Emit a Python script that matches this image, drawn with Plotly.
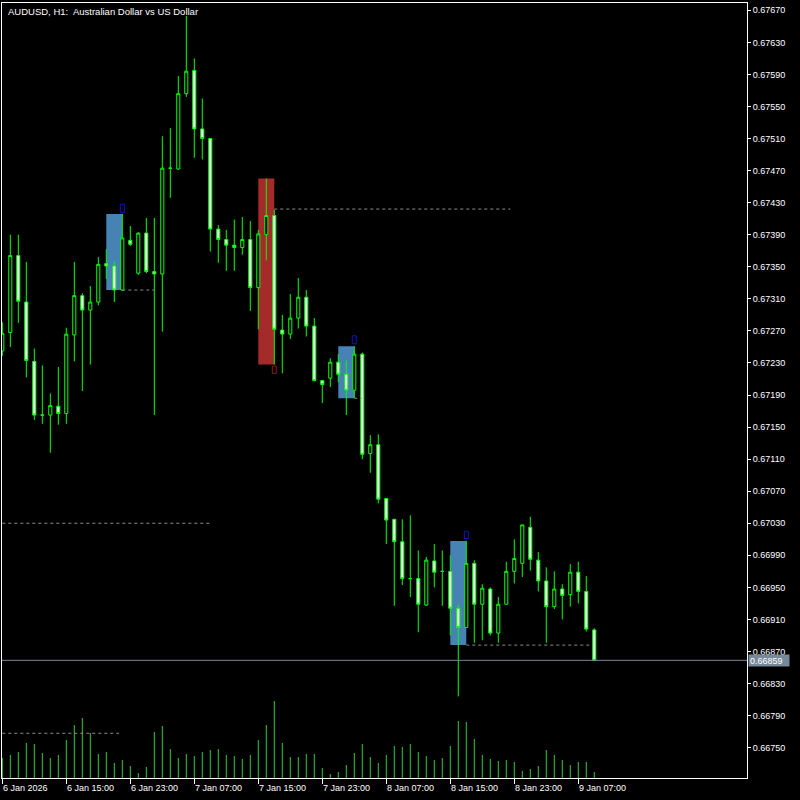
import plotly.graph_objects as go

# ---------------- data ----------------
symbol_title = "AUDUSD, H1:&nbsp; Australian Dollar vs US Dollar"
bar_index = list(range(75))  # hourly bars from 6 Jan 07:00 to 9 Jan 09:00

opens = [0.67245, 0.67268, 0.67364, 0.67306, 0.67232, 0.67165, 0.67165, 0.67176, 0.67167, 0.67265,
         0.67314, 0.67296, 0.67306, 0.67354, 0.67351, 0.67321, 0.67383, 0.67342, 0.67392, 0.67344,
         0.67341, 0.67473, 0.67472, 0.67566, 0.67595, 0.67522, 0.67510, 0.67397, 0.67384, 0.67377,
         0.67374, 0.67384, 0.67324, 0.67390, 0.67414, 0.67271, 0.67266, 0.67286, 0.67312, 0.67276,
         0.67208, 0.67211, 0.67231, 0.67216, 0.67196, 0.67241, 0.67117, 0.67128, 0.67061, 0.67035,
         0.67007, 0.66961, 0.66961, 0.66928, 0.66983, 0.66970, 0.66970, 0.66924, 0.66900, 0.66980,
         0.66929, 0.66948, 0.66893, 0.66929, 0.66970, 0.66980, 0.67025, 0.66984, 0.66958, 0.66926,
         0.66948, 0.66941, 0.66969, 0.66945, 0.66897]
highs = [0.67281, 0.67390, 0.67390, 0.67356, 0.67248, 0.67227, 0.67192, 0.67225, 0.67274, 0.67356,
         0.67317, 0.67326, 0.67362, 0.67372, 0.67357, 0.67416, 0.67401, 0.67393, 0.67411, 0.67411,
         0.67513, 0.67523, 0.67588, 0.67663, 0.67610, 0.67560, 0.67510, 0.67402, 0.67396, 0.67409,
         0.67412, 0.67407, 0.67396, 0.67460, 0.67421, 0.67290, 0.67316, 0.67336, 0.67321, 0.67286,
         0.67209, 0.67236, 0.67241, 0.67233, 0.67251, 0.67243, 0.67140, 0.67141, 0.67061, 0.67035,
         0.67035, 0.67040, 0.66996, 0.66988, 0.67004, 0.66996, 0.66990, 0.66929, 0.67008, 0.66984,
         0.66954, 0.66950, 0.66938, 0.66982, 0.67010, 0.67028, 0.67038, 0.66994, 0.66975, 0.66970,
         0.66954, 0.66979, 0.66982, 0.66964, 0.66899]
lows = [0.67239, 0.67250, 0.67280, 0.67212, 0.67159, 0.67154, 0.67118, 0.67153, 0.67154, 0.67232,
        0.67195, 0.67228, 0.67302, 0.67335, 0.67306, 0.67320, 0.67376, 0.67340, 0.67342, 0.67165,
        0.67269, 0.67436, 0.67471, 0.67562, 0.67486, 0.67484, 0.67369, 0.67355, 0.67345, 0.67345,
        0.67365, 0.67295, 0.67272, 0.67358, 0.67228, 0.67217, 0.67260, 0.67273, 0.67263, 0.67207,
        0.67180, 0.67200, 0.67206, 0.67165, 0.67186, 0.67110, 0.67093, 0.67055, 0.67004, 0.66927,
        0.66953, 0.66938, 0.66894, 0.66927, 0.66950, 0.66927, 0.66890, 0.66814, 0.66900, 0.66881,
        0.66884, 0.66890, 0.66881, 0.66929, 0.66955, 0.66963, 0.66971, 0.66945, 0.66881, 0.66923,
        0.66910, 0.66926, 0.66930, 0.66895, 0.66859]
closes = [0.67267, 0.67364, 0.67307, 0.67233, 0.67165, 0.67165, 0.67177, 0.67167, 0.67266, 0.67314,
          0.67296, 0.67306, 0.67353, 0.67351, 0.67321, 0.67386, 0.67378, 0.67392, 0.67344, 0.67341,
          0.67473, 0.67473, 0.67566, 0.67594, 0.67522, 0.67510, 0.67397, 0.67384, 0.67377, 0.67374,
          0.67384, 0.67324, 0.67391, 0.67414, 0.67272, 0.67266, 0.67286, 0.67312, 0.67276, 0.67208,
          0.67203, 0.67231, 0.67216, 0.67196, 0.67241, 0.67116, 0.67128, 0.67060, 0.67034, 0.67007,
          0.66961, 0.66961, 0.66929, 0.66984, 0.66969, 0.66970, 0.66924, 0.66900, 0.66980, 0.66929,
          0.66949, 0.66893, 0.66929, 0.66970, 0.66986, 0.67028, 0.66985, 0.66958, 0.66926, 0.66948,
          0.66940, 0.66969, 0.66945, 0.66898, 0.66859]
tick_volumes = [800, 920, 1040, 1400, 1360, 1000, 800, 920, 1520, 2120,
                2400, 1800, 960, 1040, 600, 720, 480, 200, 440, 1840,
                2080, 1160, 800, 960, 880, 1040, 1120, 1160, 920, 880,
                760, 920, 1520, 2120, 3080, 1400, 840, 840, 960, 960,
                400, 160, 240, 520, 1000, 1360, 840, 600, 920, 1280,
                1240, 1360, 1040, 880, 720, 800, 1280, 2280, 2240, 1560,
                920, 760, 680, 720, 640, 280, 360, 480, 1120, 920,
                720, 520, 640, 640, 240]

time_tick_index = [0, 8, 16, 24, 32, 40, 48, 56, 64, 72]
time_tick_labels = ["6 Jan 2026", "6 Jan 15:00", "6 Jan 23:00", "7 Jan 07:00", "7 Jan 15:00",
                    "7 Jan 23:00", "8 Jan 07:00", "8 Jan 15:00", "8 Jan 23:00", "9 Jan 07:00"]
price_ticks = [0.67670, 0.67630, 0.67590, 0.67550, 0.67510, 0.67470, 0.67430, 0.67390, 0.67350,
               0.67310, 0.67270, 0.67230, 0.67190, 0.67150, 0.67110, 0.67070, 0.67030, 0.66990,
               0.66950, 0.66910, 0.66870, 0.66830, 0.66790, 0.66750]
current_price = 0.66859

# zones: (start bar, end bar, top price, bottom price, colour)
zones = [(13, 15, 0.67416, 0.67321, "#4682B4"),
         (32, 34, 0.67460, 0.67228, "#A52A2A"),
         (42, 44, 0.67251, 0.67186, "#4682B4"),
         (56, 58, 0.67008, 0.66878, "#4682B4")]
# small marker boxes: (bar, top price, bottom price, colour)
markers = [(15, 0.67428, 0.67418, "#1010D0"),
           (44, 0.67264, 0.67254, "#1010D0"),
           (58, 0.67020, 0.67011, "#1010D0"),
           (34, 0.67226, 0.67217, "#8B1A1A")]
# dashed levels: (start bar, end bar, price)
levels = [(15, 19, 0.67321), (34, 63.5, 0.67422), (0, 26, 0.67030),
          (58, 73.5, 0.66878), (0, 14.6, 0.66768), (44, 45, 0.67186)]

# ---------------- figure ----------------
fig = go.Figure()

fig.add_trace(go.Candlestick(
    x=bar_index, open=opens, high=highs, low=lows, close=closes,
    increasing=dict(line=dict(color="#00FF00", width=1), fillcolor="#000000"),
    decreasing=dict(line=dict(color="#00FF00", width=1), fillcolor="#FFFFFF"),
    whiskerwidth=0, hoverinfo="skip", showlegend=False))

vx, vy = [], []
for i, v in zip(bar_index, tick_volumes):
    vx += [i, i, None]
    vy += [0, v, None]
fig.add_trace(go.Scatter(x=vx, y=vy, mode="lines", yaxis="y2",
                         line=dict(color="#32CD32", width=1),
                         hoverinfo="skip", showlegend=False))

shapes = []
for x0, x1, top, bot, col in zones:
    shapes.append(dict(type="rect", xref="x", yref="y", x0=x0, x1=x1, y0=bot, y1=top,
                       fillcolor=col, line=dict(width=0), layer="below"))
for xb, top, bot, col in markers:
    shapes.append(dict(type="rect", xref="x", yref="y", x0=xb - 0.25, x1=xb + 0.25, y0=bot, y1=top,
                       line=dict(color=col, width=1), fillcolor="rgba(0,0,0,0)", layer="above"))
for x0, x1, p in levels:
    shapes.append(dict(type="line", xref="x", yref="y", x0=x0, x1=x1, y0=p, y1=p,
                       line=dict(color="#8C8C8C", width=1, dash="3px,3px"), layer="above"))
shapes.append(dict(type="line", xref="paper", yref="y", x0=0, x1=1, y0=current_price, y1=current_price,
                   line=dict(color="#778899", width=1), layer="above"))

annotations = [dict(text=symbol_title, xref="paper", yref="paper", x=0, y=1, xanchor="left",
                    yanchor="top", xshift=4, yshift=-1, showarrow=False,
                    font=dict(family="Liberation Sans, Arial", size=9.5, color="#FFFFFF"))]
for idx, lab in zip(time_tick_index, time_tick_labels):
    annotations.append(dict(text=lab, xref="x", yref="paper", x=idx, y=0, xanchor="left",
                            yanchor="top", xshift=-1, yshift=-3, showarrow=False,
                            font=dict(family="Liberation Sans, Arial", size=9, color="#FFFFFF")))
annotations.append(dict(text=f"{current_price:.5f}", xref="paper", yref="y", x=1, y=current_price,
                        xanchor="left", yanchor="middle", xshift=1, showarrow=False,
                        bgcolor="#778899", borderpad=1, width=38, height=9, align="left",
                        font=dict(family="Liberation Sans, Arial", size=9, color="#FFFFFF")))

fig.update_layout(
    width=800, height=800,
    margin=dict(l=2, r=53, t=3, b=22),
    paper_bgcolor="#000000", plot_bgcolor="#000000",
    showlegend=False, hovermode=False,
    boxgap=0.45,
    shapes=shapes, annotations=annotations,
    xaxis=dict(range=[-0.0375, 93.09], showgrid=False, zeroline=False,
               rangeslider=dict(visible=False),
               tickmode="array", tickvals=time_tick_index, showticklabels=False,
               ticks="outside", ticklen=5, tickcolor="#FFFFFF", tickwidth=1,
               showline=True, linecolor="#FFFFFF", linewidth=1, mirror=True),
    yaxis=dict(range=[0.667122, 0.676791], side="right", showgrid=False, zeroline=False,
               tickmode="array", tickvals=price_ticks, tickformat=".5f",
               ticks="outside", ticklen=3, tickcolor="#FFFFFF", tickwidth=1,
               tickfont=dict(family="Liberation Sans, Arial", size=9, color="#FFFFFF"),
               showline=True, linecolor="#FFFFFF", linewidth=1, mirror=True),
    yaxis2=dict(range=[0, 31000], overlaying="y", visible=False, showgrid=False, zeroline=False),
)

fig.write_html("out.html",
               config={"displayModeBar": False, "staticPlot": True},
               post_script="document.body.style.margin='0';document.body.style.background='#000';")
